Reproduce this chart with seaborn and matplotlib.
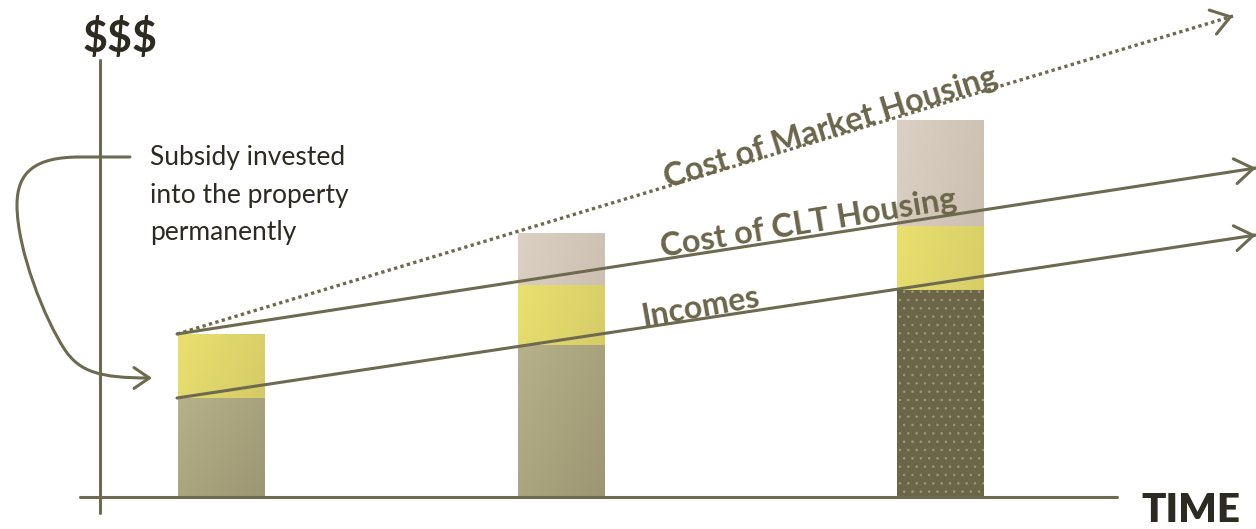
import numpy as np
import pandas as pd
import matplotlib.pyplot as plt
import matplotlib as mpl
from matplotlib.path import Path
from matplotlib.patches import FancyArrowPatch
import seaborn as sns

# three moments in time, each bar split into the part paid by income,
# the subsidy part and the extra a market buyer pays on top
periods = ['then', 'later', 'now']
times = [221, 561, 940]
income_part = [99, 152, 207]
subsidy_part = [64, 60, 64]
market_gap = [0, 52, 106]

# trend lines, start and end of each
incomes_x = [177, 1256]
incomes_y = [99, 262]
clt_x = [177, 1256]
clt_y = [163, 329]
market_x = [177, 1233]
market_y = [163, 481]

LINE = '#6e6a4f'
LABEL = '#6b6549'
DARK = '#2d2a21'

sns.set_theme(style='white')
plt.rcParams['font.family'] = ['Lato', 'DejaVu Sans']
plt.rcParams['hatch.linewidth'] = 0.6

df = pd.DataFrame({'period': periods, 'time': times})
df['base'] = income_part
df['mid'] = df['base'] + np.array(subsidy_part)
df['top'] = df['mid'] + np.array(market_gap)

fig = plt.figure(figsize=(12.56, 5.29), dpi=100)
ax = fig.add_axes([0, 0, 1, 1])

bar_w = 87 / (times[1] - times[0])


def shade(patch, c0, c1):
    """diagonal gradient clipped to a bar"""
    x0, y0 = patch.get_x(), patch.get_y()
    w, h = patch.get_width(), patch.get_height()
    if h <= 0:
        return
    u, v = np.meshgrid(np.linspace(0, 1, 64), np.linspace(0, 1, 64))
    t = 0.55 * u + 0.45 * (1 - v)
    cmap = mpl.colors.LinearSegmentedColormap.from_list('g', [c0, c1])
    im = ax.imshow(t, extent=[x0, x0 + w, y0, y0 + h], origin='lower', cmap=cmap,
                   aspect='auto', interpolation='bilinear', zorder=patch.get_zorder() + 0.1)
    im.set_clip_path(patch)


layers = [
    ('top', ['#d8ccbe'] * 3, 1, ('#dbd0c3', '#c2b7a6')),
    ('mid', ['#e6dc6c'] * 3, 2, ('#e9e06f', '#cdc364')),
    ('base', ['#b1ac84', '#b1ac84', '#6b6648'], 3, ('#b6b18a', '#9c9672')),
]
for col, pal, z, grad in layers:
    n0 = len(ax.patches)
    sns.barplot(data=df, x='time', y=col, hue='period', palette=pal, native_scale=True,
                width=bar_w, dodge=False, legend=False, saturation=1, linewidth=0,
                zorder=z, ax=ax)
    for i, p in enumerate(ax.patches[n0:]):
        if col == 'base' and i == 2:
            p.set_hatch('..')
            p.set_edgecolor('#9d987c')
            p.set_linewidth(0)
            continue
        shade(p, *grad)

# trend lines
sns.lineplot(x=incomes_x, y=incomes_y, color=LINE, lw=2.2, ax=ax, zorder=5)
sns.lineplot(x=clt_x, y=clt_y, color=LINE, lw=2.2, ax=ax, zorder=5)
sns.lineplot(x=market_x, y=market_y, color=LINE, lw=2.4, ls=(0, (1, 1)), ax=ax, zorder=5)

for xs, ys in [(incomes_x, incomes_y), (clt_x, clt_y), (market_x, market_y)]:
    tip = (xs[-1], ys[-1])
    back = (xs[-1] - 0.002 * (xs[-1] - xs[0]), ys[-1] - 0.002 * (ys[-1] - ys[0]))
    ax.annotate('', xy=tip, xytext=back, zorder=6,
                arrowprops=dict(arrowstyle='->,head_length=1.1,head_width=0.75',
                                color=LINE, lw=2.2, shrinkA=0, shrinkB=0))

# axes drawn by hand
ax.plot([100, 100], [437, -16], color=LINE, lw=2.2, zorder=4)
ax.plot([80, 1117], [0, 0], color=LINE, lw=2.2, zorder=4)
ax.text(83, 459, '$$$', fontsize=31, fontweight='bold', color=DARK, ha='left', va='center')
ax.text(1141, -25, 'TIME', fontsize=29, fontweight='heavy', color=DARK, ha='left', va='baseline')

# subsidy note with curved arrow
for k, line in enumerate(['Subsidy invested', 'into the property', 'permanently']):
    ax.text(150, 332 - 37.5 * k, line, fontsize=19, color=DARK, ha='left', va='baseline')

verts = [(130, 340), (80, 340),
         (35, 340), (17, 325), (17, 292),
         (17, 247), (45, 177), (65, 147),
         (80, 125), (100, 119), (152, 119)]
codes = [Path.MOVETO, Path.LINETO] + [Path.CURVE4] * 9
ax.add_patch(FancyArrowPatch(path=Path(verts, codes), color=LINE, lw=2.2,
                             arrowstyle='->,head_length=1.1,head_width=0.75',
                             mutation_scale=10, zorder=6))

# labels along the lines
def angle(xs, ys):
    return np.degrees(np.arctan2(ys[1] - ys[0], xs[1] - xs[0]))

ax.text(834, 360, 'Cost of Market Housing', rotation=angle(market_x, market_y) + 0.5,
        rotation_mode='anchor', ha='center', va='baseline', fontsize=23.5,
        fontweight='bold', color=LABEL, zorder=7)
ax.text(810, 264, 'Cost of CLT Housing', rotation=angle(clt_x, clt_y) + 0.6,
        rotation_mode='anchor', ha='center', va='baseline', fontsize=23.5,
        fontweight='bold', color=LABEL, zorder=7)
ax.text(702, 180, 'Incomes', rotation=angle(incomes_x, incomes_y) + 1.5,
        rotation_mode='anchor', ha='center', va='baseline', fontsize=23,
        fontweight='bold', color=LABEL, zorder=7)

ax.set_xlim(0, 1256)
ax.set_ylim(-32, 497)
ax.axis('off')

fig.savefig('out.png', dpi=100)
